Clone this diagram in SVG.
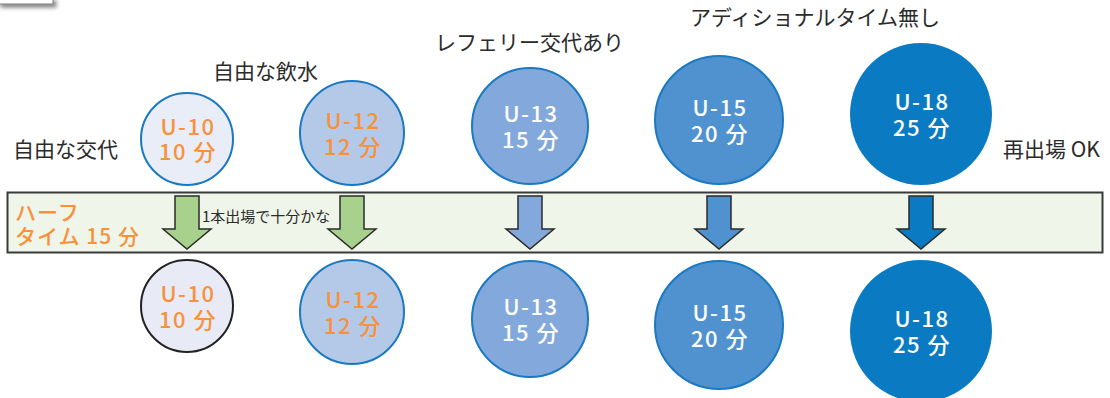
<svg xmlns="http://www.w3.org/2000/svg" width="1110" height="398" viewBox="0 0 1110 398">
<defs>
<filter id="sh" x="-20%" y="-50%" width="150%" height="400%">
<feGaussianBlur in="SourceAlpha" stdDeviation="2"/>
<feOffset dx="3" dy="3" result="b"/>
<feComponentTransfer><feFuncA type="linear" slope="0.5"/></feComponentTransfer>
<feMerge><feMergeNode/><feMergeNode in="SourceGraphic"/></feMerge>
</filter>
</defs>
<style>
text{font-family:"Noto Sans CJK JP","Noto Sans",sans-serif;}
.lbl{font-size:21px;fill:#2b2b2b;}
.ct{font-size:22px;text-anchor:middle;letter-spacing:1.5px;font-weight:500;}
.bt{font-size:21px;letter-spacing:1px;font-weight:500;}
.or{fill:#f7923a;}
.wh{fill:#ffffff;}
.cs{stroke:#1a79c0;stroke-width:2;}
.ar{stroke:#2b2b2b;stroke-width:1.5;stroke-linejoin:miter;}
</style>
<rect x="-2" y="-2" width="55" height="6" fill="#ffffff" stroke="#777" stroke-width="1" filter="url(#sh)"/>

<g id="band">
<rect x="7.5" y="192.5" width="1095" height="60" fill="#eff5e9" stroke="#3a3a3a" stroke-width="2"/>
<text x="15" y="220" class="bt or">ハーフ</text>
<text x="15" y="244" class="bt or">タイム 15 分</text>
<text x="202" y="222" font-size="15" fill="#2b2b2b">1本出場で十分かな</text>
</g>

<g id="labels">
<text class="lbl" x="13" y="157">自由な交代</text>
<text class="lbl" x="213" y="79">自由な飲水</text>
<text class="lbl" x="435" y="50">レフェリー交代あり</text>
<text class="lbl" x="690" y="25">アディショナルタイム無し</text>
<text class="lbl" x="1003" y="157">再出場 OK</text>
</g>

<g id="u10-top">
<circle cx="187" cy="139" r="46" fill="#e8edf7" class="cs"/>
<text class="ct or" x="188" y="135">U-10</text>
<text class="ct or" x="188" y="160">10 分</text>
</g>
<g id="u12-top">
<circle cx="352" cy="133" r="52" fill="#b4c8e8" class="cs"/>
<text class="ct or" x="353" y="129">U-12</text>
<text class="ct or" x="353" y="155">12 分</text>
</g>
<g id="u13-top">
<circle cx="530" cy="126" r="58" fill="#83a9dc" class="cs"/>
<text class="ct wh" x="531" y="122">U-13</text>
<text class="ct wh" x="531" y="148">15 分</text>
</g>
<g id="u15-top">
<circle cx="719" cy="120" r="64" fill="#5091cf" class="cs"/>
<text class="ct wh" x="720" y="116">U-15</text>
<text class="ct wh" x="720" y="142">20 分</text>
</g>
<g id="u18-top">
<circle cx="921" cy="114" r="71" fill="#0a7bc2"/>
<text class="ct wh" x="922" y="110">U-18</text>
<text class="ct wh" x="922" y="136">25 分</text>
</g>

<g id="connectors">
<path class="ar" fill="#a9d18e" d="M175,196 H199 V229 H211 L187,249 L163,229 H175 Z"/>
<path class="ar" fill="#a9d18e" d="M340,196 H364 V229 H376 L352,249 L328,229 H340 Z"/>
<path class="ar" fill="#83a9dc" d="M518,196 H542 V229 H554 L530,249 L506,229 H518 Z"/>
<path class="ar" fill="#5091cf" d="M707,196 H731 V229 H743 L719,249 L695,229 H707 Z"/>
<path class="ar" fill="#0a7bc2" d="M909,196 H933 V229 H945 L921,249 L897,229 H909 Z"/>
</g>

<g id="u10-bot">
<circle cx="187" cy="306" r="46" fill="#e8ebf6" stroke="#222" stroke-width="2"/>
<text class="ct or" x="188" y="302">U-10</text>
<text class="ct or" x="188" y="328">10 分</text>
</g>
<g id="u12-bot">
<circle cx="352" cy="312" r="52" fill="#b4c8e8" class="cs"/>
<text class="ct or" x="353" y="308">U-12</text>
<text class="ct or" x="353" y="334">12 分</text>
</g>
<g id="u13-bot">
<circle cx="530" cy="319" r="58" fill="#83a9dc" class="cs"/>
<text class="ct wh" x="531" y="315">U-13</text>
<text class="ct wh" x="531" y="341">15 分</text>
</g>
<g id="u15-bot">
<circle cx="719" cy="325" r="64" fill="#5091cf" class="cs"/>
<text class="ct wh" x="720" y="321">U-15</text>
<text class="ct wh" x="720" y="347">20 分</text>
</g>
<g id="u18-bot">
<circle cx="921" cy="331" r="71" fill="#0a7bc2"/>
<text class="ct wh" x="922" y="327">U-18</text>
<text class="ct wh" x="922" y="353">25 分</text>
</g>
</svg>
